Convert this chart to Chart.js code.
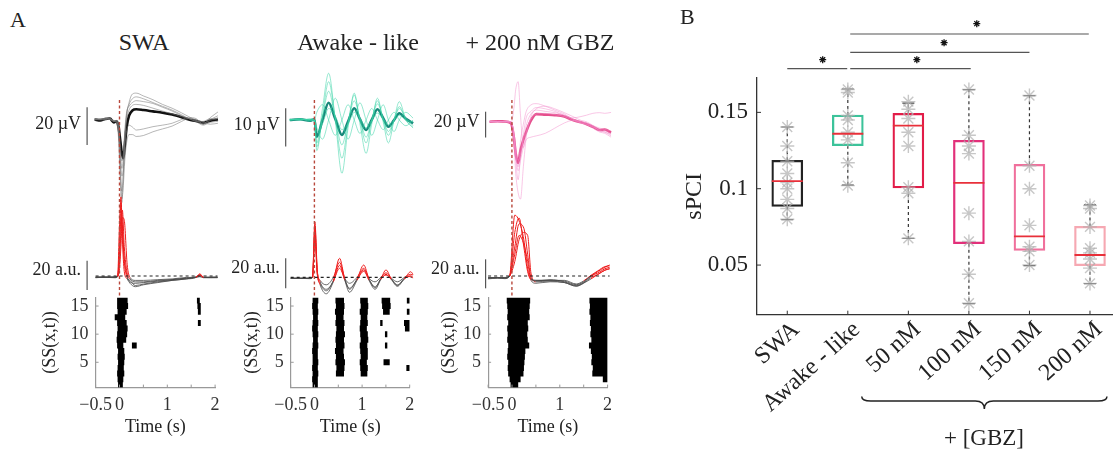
<!DOCTYPE html>
<html>
<head>
<meta charset="utf-8">
<script src="https://cdn.jsdelivr.net/npm/chart.js@4.4.1/dist/chart.umd.min.js"></script>
<style>
  body { margin: 0; background: #fff; }
  #fig { position: relative; width: 1113px; height: 452px; overflow: hidden; font-family: 'Liberation Serif', serif; color: #222; }
  #fig canvas { position: absolute; }
  .lbl { position: absolute; white-space: nowrap; line-height: 1; }
</style>
</head>
<body>
<div id="fig"></div>
<script>
// ---------- panel A : EEG traces (µV) ----------
const swaEegT = [-0.52, -0.4, -0.3, -0.2, -0.12, -0.06, -0.02, 0.02, 0.05, 0.08, 0.11, 0.15, 0.2, 0.27, 0.35, 0.5, 0.7, 0.9, 1.1, 1.3, 1.45, 1.6, 1.75, 1.9, 2.06];
const swaEegMean = [0, -0.5, 0.3, 0.5, -1.5, -1, -4, -12, -18, -20.5, -14, -4, 2, 4.8, 5.4, 5, 4.3, 3.6, 2.6, 1.2, 0, -0.8, -1.8, -0.6, 0];
const swaEegThin = [
  [0.5, 0, 0.6, 0.3, -1, -1.5, -6, -22, -30, -26, -12, 2, 9, 13.5, 14, 12.5, 10.5, 8, 6, 3.5, 1.5, -0.5, -2.5, 1, 4],
  [-0.3, 0.2, 0.5, 0, -1, -0.5, -8, -30, -38, -28, -10, 3, 8, 11, 12, 11, 9, 7, 5, 2.5, 0.5, -1, -3, -1.5, -1],
  [0.2, -0.3, 0, 0.5, -0.5, -1, -5, -25, -42, -35, -22, -12, -8, -8, -9, -8.5, -6.5, -5, -3.5, -1, 0.5, 0, -1.5, -2.5, -2],
  [-0.2, 0.3, 0.6, 0, -0.8, -2, -10, -35, -44, -30, -15, -6, -3, -4, -5.6, -5, -3.8, -3, -2, 0, 1, 0.5, -2.5, -0.5, 1],
  [0.3, 0, 0.2, 0.8, -1.2, -0.5, -3, -15, -22, -18, -8, 0, 5, 7.5, 8, 7.5, 6, 4.5, 3, 1.5, 0.5, -1, -1, 0.5, -0.5],
  [0, 0.4, 0, 0.2, -0.5, -1, -4, -18, -26, -20, -6, 4, 7, 9, 10, 9.5, 8.5, 6.5, 4.5, 2, 0.5, -0.5, -2, 0, 2]
];

const awkEegT = [-0.52, -0.3, -0.1, 0, 0.05, 0.17, 0.3, 0.44, 0.58, 0.71, 0.84, 0.96, 1.09, 1.21, 1.33, 1.45, 1.56, 1.68, 1.79, 1.93, 2.08];
const awkEegMean = [0, 0.2, -0.2, 0.2, -4.4, 0, 4.5, 0.3, -3.9, -0.4, 3.05, 0.2, -2.6, 0.1, 2.8, 0.5, -1.75, 0, 1.75, 0.3, -0.9];
const awkEegThin = [
  [0, 0.3, 0, 0, -6, 3, 12.2, 0, -13.9, -2, 7, -1, -8.7, -1, 5.7, -0.5, -6, 0, 4.8, 0, -2],
  [0.2, 0, 0.3, 0, -2, -5, 0, 5.7, 0, -5, 0, 4.5, 0, -4, 0, 4, 0, -3, 0, 2, 0.5],
  [0, 0.3, -0.3, 0, -7, 0.5, 7.5, 0.5, -6.5, -0.5, 5, 0.5, -4.5, 0, 4.2, 0.5, -3, 0, 3, 0.5, -1.5],
  [0.1, 0, 0.2, 0, -3, -1, 3, 1, -2.5, -1, 2, 0.5, -2, 0, 1.8, 0.3, -1.2, 0, 1.2, 0, -0.5],
  [0, 0.2, 0, 0, 2, 4, 0, -4, 0, 4, 0, -3.5, 0, 3, 0, -2.5, 0, 2, 0, -1.5, 0],
  [0, 0.2, 0, 0, -8, 1, 10, 0.5, -10, -1, 6.5, 0, -6, 0, 5, 0, -4, 0, 3.5, 0, -2]
];

const gbzEegT = [-0.47, -0.3, -0.15, -0.02, 0.04, 0.08, 0.13, 0.18, 0.24, 0.3, 0.4, 0.51, 0.7, 0.9, 1.1, 1.28, 1.45, 1.56, 1.7, 1.84, 1.95, 2.08];
const gbzEegMean = [0, 0.3, 0.2, -1.3, -12, -25, -32, -22, -14, -7.7, 1, 5.9, 5.5, 5.1, 4, 1.3, -0.5, -1.8, -4, -6.4, -6, -8.5];
const gbzEegThin = [
  [0, 0.2, 0, -1, 10, 25, 31, 5, -20, -8, 2, 6, 6.5, 5.5, 4, 1, -1, -2, -4, -6, -7, -9],
  [0, 0.3, 0, 0, -15, -40, -55, -60, -35, -12, 4, 10, 12, 10, 7, 4, 1, 0, -3, -7, -8, -11],
  [0, -0.2, 0.2, 0, -10, -25, -38, -30, -20, -14, -12, -11, -9, -5, -1, 1, 0, -1, -3, -5, -6, -7],
  [0, 0.2, 0.3, 0, -8, -20, -30, -25, -10, 3, 8, 11, 10, 8, 5, 3, 4, 5, 6.5, 7, 6.5, 7.2],
  [0, 0.1, 0, 0, -10, -25, -35, -15, -2, 8, 13, 14, 12, 9, 6, 2, 0, -1, -4, -7, -8, -10],
  [0, 0.2, 0.1, 0, -12, -30, -45, -28, -15, -3, 6, 9, 8, 7, 5, 2, -1, -2, -5, -8, -9, -12]
];

// ---------- panel A : SS traces (a.u., threshold at 0) ----------
const ssThreshold = 0;
const swaSsT = [-0.5, -0.3, -0.1, -0.04, 0, 0.03, 0.06, 0.1, 0.16, 0.22, 0.33, 0.5, 0.8, 1.1, 1.4, 1.6, 1.68, 1.76, 2.05];
const swaSs = [
  [-1, -0.5, -1, -0.5, 20, 50, 35, 10, -1, -3, -6.5, -5.5, -4, -3, -2, -1, 1.5, -1, -1],
  [-0.8, -1, -0.5, 0, 35, 54, 25, 3, -2, -5, -7.3, -6, -4.5, -3, -2, -0.5, 0.5, -1, -0.8],
  [-1.2, -0.8, -1, 0, 10, 30, 45, 20, 2, -2, -4, -4, -3, -2.5, -1.5, -1, -0.5, -1.2, -1],
  [-1, -1, -0.7, -0.3, 5, 20, 40, 38, 8, -1, -3, -3, -2.5, -2, -1, -0.8, 0, -1, -1.2],
  [-0.6, -0.8, -1.2, -0.5, 15, 40, 30, 12, 0, -4, -5, -4.5, -3.5, -2.5, -1.5, -1, 1, -0.8, -0.7]
];
const awkSsT = [-0.5, -0.3, -0.1, -0.04, 0.01, 0.06, 0.12, 0.25, 0.4, 0.53, 0.64, 0.74, 0.9, 1.04, 1.15, 1.28, 1.4, 1.51, 1.62, 1.75, 1.9, 2.03, 2.08];
const awkSs = [
  [-0.7, -0.5, -0.8, 0, 37, 5, -3, -8, -2, 12.7, -1, -7.3, -1, 8.2, -1, -6.3, -1, 4.9, -1, -5, -1, 3.7, 2],
  [-0.5, -0.8, -0.6, 0, 30, 3, -5, -11, -3, 8, -2, -10, -2, 5, -2, -8, -1.5, 2, -1.5, -6, -1, 1, 0],
  [-0.8, -0.6, -0.5, 0, 34, 4, -2, -5, 0, 10, -0.5, -4, 0, 6, -0.5, -3, 0, 3, -0.5, -3, 0, 2, 1.5],
  [-0.6, -0.7, -0.9, -0.2, 25, 2, -4, -9, -2.5, 6, -1.5, -8, -1.5, 4, -1.5, -7, -1, 1.5, -1, -5.5, -0.5, 0.5, -0.5]
];
const gbzSsT = [-0.5, -0.3, -0.15, -0.05, 0.06, 0.15, 0.25, 0.33, 0.4, 0.5, 0.8, 1.1, 1.35, 1.5, 1.66, 1.8, 1.95, 2.05];
const gbzSs = [
  [-1.5, -1, -1.5, 0, 42, 38, 25, 5, -2, -3, -3, -3.5, -6, -4, 0, 3, 6, 7.6],
  [-1.5, -1.2, -1, 0, 20, 36, 33, 15, -1, -3.5, -2.5, -4, -6.5, -4.5, 0, 2, 5, 6],
  [-1, -1.4, -1.2, 0, 10, 25, 30, 28, 2, -4, -3.5, -4.5, -7, -5, -1, 1, 4, 5],
  [-2, -1.5, -1.8, 0, 15, 28, 22, 10, -3, -5, -4, -4.5, -7, -5, -2, 1, 4, 5],
  [-1.2, -1, -1.4, -0.2, 30, 40, 20, 3, -2.5, -3, -3, -3, -5.5, -3.5, 0.5, 3.5, 6.5, 7]
];

// ---------- panel A : rasters [row, start (s), end (s)] ----------
const rasterSWA = [
  [16, -0.05, 0.17], [15, -0.05, 0.18], [14, -0.04, 0.15], [13, -0.1, 0.12], [12, -0.05, 0.15], [11, -0.04, 0.17],
  [10, -0.05, 0.16], [9, -0.06, 0.14], [8, -0.05, 0.08], [7, -0.03, 0.1], [6, -0.04, 0.11], [5, -0.03, 0.1],
  [4, -0.04, 0.09], [3, -0.05, 0.1], [2, -0.04, 0.08], [1, -0.03, 0.07],
  [8, 0.26, 0.36], [16, 1.62, 1.68], [15, 1.63, 1.7], [14, 1.64, 1.7], [12, 1.64, 1.7]
];
const rasterAwake = [
  [16, -0.04, 0.08], [15, -0.05, 0.07], [14, -0.04, 0.08], [13, -0.03, 0.07], [12, -0.04, 0.08], [11, -0.05, 0.07],
  [10, -0.04, 0.08], [9, -0.03, 0.07], [8, -0.04, 0.08], [7, -0.05, 0.07], [6, -0.04, 0.07], [5, -0.04, 0.08],
  [4, -0.05, 0.07], [3, -0.04, 0.08], [2, -0.05, 0.07], [1, -0.04, 0.07],
  [16, 0.44, 0.62], [15, 0.45, 0.63], [14, 0.43, 0.62], [13, 0.45, 0.61], [12, 0.44, 0.63], [11, 0.46, 0.62],
  [10, 0.45, 0.64], [9, 0.44, 0.62], [8, 0.45, 0.63], [7, 0.43, 0.61], [6, 0.45, 0.62], [5, 0.44, 0.64],
  [4, 0.46, 0.63], [3, 0.45, 0.62],
  [16, 0.96, 1.12], [15, 0.97, 1.13], [14, 0.95, 1.12], [13, 0.97, 1.11], [12, 0.96, 1.12], [11, 0.95, 1.1],
  [10, 0.96, 1.12], [9, 0.97, 1.13], [8, 0.95, 1.11], [7, 0.96, 1.12], [6, 0.97, 1.12], [5, 0.95, 1.1],
  [4, 0.96, 1.12], [3, 0.97, 1.11],
  [16, 1.41, 1.59], [15, 1.42, 1.6], [14, 1.44, 1.58], [12, 1.38, 1.43], [10, 1.48, 1.53], [8, 1.48, 1.53], [5, 1.45, 1.58],
  [16, 1.94, 2.0], [14, 1.94, 2.0], [12, 1.88, 2.0], [11, 1.9, 2.0], [4, 1.93, 2.0]
];
const rasterGBZ = [
  [16, -0.11, 0.38], [15, -0.1, 0.37], [14, -0.09, 0.36], [13, -0.1, 0.37], [12, -0.08, 0.33], [11, -0.1, 0.34],
  [10, -0.09, 0.32], [9, -0.1, 0.33], [8, -0.08, 0.36], [7, -0.09, 0.28], [6, -0.1, 0.27], [5, -0.08, 0.26],
  [4, -0.09, 0.25], [3, -0.08, 0.24], [2, -0.05, 0.18], [1, -0.03, 0.13],
  [16, 1.62, 2.0], [15, 1.63, 2.0], [14, 1.62, 2.0], [13, 1.64, 2.0], [12, 1.63, 2.0], [11, 1.65, 2.0],
  [10, 1.64, 2.0], [9, 1.66, 2.0], [8, 1.61, 2.0], [7, 1.65, 2.0], [6, 1.67, 2.0], [5, 1.66, 2.0],
  [4, 1.69, 2.0], [3, 1.68, 2.0], [2, 1.9, 2.0]
];
const rasterTicksY = [5, 10, 15];
const timeTicks = [-0.5, 0, 0.5, 1, 1.5, 2];
const timeTickLabels = ['\u22120.5', '0', '', '1', '', '2'];

// ---------- panel B : sPCI box plots ----------
const groupLabels = ['SWA', 'Awake - like', '50 nM', '100 nM', '150 nM', '200 nM'];
const whiskerLow = [0.0797, 0.1024, 0.0675, 0.0247, 0.0496, 0.0378];
const boxLow = [0.0884, 0.1282, 0.1005, 0.064, 0.0596, 0.0496];
const medians = [0.105, 0.136, 0.1413, 0.1038, 0.0688, 0.0566];
const boxHigh = [0.1186, 0.1483, 0.1494, 0.1317, 0.116, 0.0753];
const whiskerHigh = [0.1404, 0.1653, 0.156, 0.1649, 0.161, 0.0894];
const sliceValues = [
  [0.1404, 0.128, 0.118, 0.11, 0.104, 0.1, 0.093, 0.087, 0.08],
  [0.165, 0.163, 0.148, 0.145, 0.137, 0.132, 0.117, 0.102],
  [0.157, 0.152, 0.146, 0.137, 0.128, 0.101, 0.097, 0.0675],
  [0.165, 0.135, 0.128, 0.123, 0.084, 0.0655, 0.044, 0.025],
  [0.161, 0.115, 0.1, 0.076, 0.062, 0.059, 0.05],
  [0.089, 0.087, 0.075, 0.061, 0.058, 0.054, 0.048, 0.038]
];
const sPciTicks = [0.05, 0.1, 0.15];
const sigFrom = [1, 2.04, 2.04, 2.04];
const sigTo = [1.99, 4.03, 5.0, 5.98];
const sigLevel = [0.1786, 0.1786, 0.1893, 0.2013];
const sigStarX = [1.585, 3.14, 3.59, 4.13];
const sigStarY = [0.1845, 0.1845, 0.1956, 0.2081];

// ---------- styles / layout ----------
const boxColors = ['#222222', '#3cc39a', '#e21c48', '#e2307a', '#f0709c', '#f6a8b2'];
const columnStyle = [
  { thin: 'rgba(120,120,120,0.6)', mean: '#111111' },
  { thin: 'rgba(60,212,168,0.6)', mean: '#17887a' },
  { thin: 'rgba(242,140,205,0.55)', mean: '#e54f8c' }
];
const panelLayout = [
  { x0: 119.5, k: 47.8, eegBase: 119.5, eegPx: 1.885, eegBar: [6.5, -13.5], eegUnit: '20 \u00b5V', ssBase: 276, ssPx: 1.465, ssBar: [10.4, -9.6], barDx: -8.5, titlePad: 9 },
  { x0: 314.5, k: 47.6, eegBase: 120, eegPx: 3.83, eegBar: [3.05, -6.95], eegUnit: '10 \u00b5V', ssBase: 277.3, ssPx: 1.5, ssBar: [12.7, -7.3], barDx: -5, titlePad: 16 },
  { x0: 512, k: 47.8, eegBase: 121.7, eegPx: 1.29, eegBar: [7.75, -12.25], eegUnit: '20 \u00b5V', ssBase: 276, ssPx: 1.45, ssBar: [11.5, -8.5], barDx: -2.5, titlePad: 16 }
];
const columnData = [
  { eegT: swaEegT, eegMean: swaEegMean, eegThin: swaEegThin, ssT: swaSsT, ss: swaSs, raster: rasterSWA },
  { eegT: awkEegT, eegMean: awkEegMean, eegThin: awkEegThin, ssT: awkSsT, ss: awkSs, raster: rasterAwake },
  { eegT: gbzEegT, eegMean: gbzEegMean, eegThin: gbzEegThin, ssT: gbzSsT, ss: gbzSs, raster: rasterGBZ }
];

const SERIF = "'Liberation Serif', 'Times New Roman', serif";
Chart.defaults.font.family = SERIF;
Chart.defaults.color = '#222';
const fig = document.getElementById('fig');

function addText(str, x, y, size, center) {
  const d = document.createElement('div');
  d.className = 'lbl';
  d.textContent = str;
  d.style.fontSize = size + 'px';
  d.style.top = (y - 0.506 * size) + 'px';
  d.style.left = x + 'px';
  if (center) d.style.transform = 'translateX(-50%)';
  fig.appendChild(d);
}

function placeCanvas(area, pad) {
  const left = Math.round(area.left - pad.left);
  const top = Math.round(area.top - pad.top);
  const w = Math.round(area.right + pad.right) - left;
  const h = Math.round(area.bottom + pad.bottom) - top;
  const c = document.createElement('canvas');
  c.width = w; c.height = h;
  c.style.left = left + 'px'; c.style.top = top + 'px';
  c.style.width = w + 'px'; c.style.height = h + 'px';
  fig.appendChild(c);
  return {
    canvas: c,
    padding: { left: area.left - left, top: area.top - top, right: left + w - area.right, bottom: top + h - area.bottom }
  };
}

function baseOptions() {
  return {
    responsive: false,
    animation: false,
    events: [],
    plugins: { legend: { display: false }, tooltip: { enabled: false } }
  };
}

// fixed axis size, no extra room for overhanging labels
function fixSize(scale, size) {
  if (scale.isHorizontal()) scale.height = size; else scale.width = size;
  scale.paddingTop = 0; scale.paddingBottom = 0; scale.paddingLeft = 0; scale.paddingRight = 0;
}

function traceSet(ts, vs, color, width) {
  return {
    type: 'line',
    data: ts.map((t, i) => ({ x: t, y: vs[i] })),
    borderColor: color,
    borderWidth: width,
    pointRadius: 0,
    cubicInterpolationMode: 'monotone',
    fill: false
  };
}

// scale bar with unit label at the left of a trace panel
const scaleBar = {
  id: 'scaleBar',
  afterDraw(chart, args, o) {
    if (!o.label) return;
    const { ctx, scales: { x, y } } = chart;
    const bx = x.getPixelForValue(-0.5) + o.dx;
    const y1 = y.getPixelForValue(o.from), y2 = y.getPixelForValue(o.to);
    ctx.save();
    ctx.strokeStyle = '#555';
    ctx.lineWidth = 1.2;
    ctx.beginPath(); ctx.moveTo(bx, y1); ctx.lineTo(bx, y2); ctx.stroke();
    ctx.fillStyle = '#222';
    ctx.font = '18px ' + SERIF;
    ctx.textAlign = 'right';
    ctx.textBaseline = 'middle';
    ctx.fillText(o.label, bx - 6, (y1 + y2) / 2 + o.dy);
    ctx.restore();
  }
};

// red dashed stimulus line at t = 0
const stimLine = {
  id: 'stimLine',
  afterDatasetsDraw(chart, args, o) {
    if (!o.show) return;
    const { ctx, chartArea: a, scales: { x } } = chart;
    const px = x.getPixelForValue(0);
    ctx.save();
    ctx.strokeStyle = '#b8483c';
    ctx.lineWidth = 1.4;
    ctx.setLineDash([3, 2.5]);
    ctx.beginPath(); ctx.moveTo(px, a.top); ctx.lineTo(px, a.bottom); ctx.stroke();
    ctx.restore();
  }
};

// MATLAB-like tick marks pointing into the axes
const innerTicks = {
  id: 'innerTicks',
  afterDraw(chart, args, o) {
    if (!o.len) return;
    const { ctx, chartArea: a, scales: { x, y } } = chart;
    ctx.save();
    ctx.strokeStyle = o.color;
    ctx.lineWidth = 1;
    ctx.beginPath();
    x.ticks.forEach(t => {
      const px = x.getPixelForValue(t.value);
      ctx.moveTo(px, a.bottom); ctx.lineTo(px, a.bottom - o.len);
    });
    y.ticks.forEach(t => {
      const py = y.getPixelForValue(t.value);
      ctx.moveTo(a.left, py); ctx.lineTo(a.left + o.len, py);
    });
    ctx.stroke();
    ctx.restore();
  }
};

// significance stars and curly brace under the GBZ groups
const annotations = {
  id: 'annotations',
  afterDraw(chart, args, o) {
    if (!o.braceFrom) return;
    const { ctx, scales: { x, y } } = chart;
    ctx.save();
    ctx.strokeStyle = '#111';
    ctx.lineWidth = 1.3;
    sigStarX.forEach((sx, i) => {
      Chart.helpers.drawPoint(ctx, { pointStyle: 'star', radius: 3.5, borderWidth: 1.3, rotation: 0 },
        x.getPixelForValue(sx), y.getPixelForValue(sigStarY[i]));
    });
    const x1 = x.getPixelForValue(o.braceFrom), x2 = x.getPixelForValue(o.braceTo), xm = (x1 + x2) / 2;
    const y0 = o.braceTop, y1 = y0 + 4.5, y2 = y0 + 12.5, r = 9;
    ctx.strokeStyle = '#222';
    ctx.lineWidth = 1.5;
    ctx.beginPath();
    ctx.moveTo(x1, y0);
    ctx.quadraticCurveTo(x1, y1, x1 + r, y1);
    ctx.lineTo(xm - r, y1);
    ctx.quadraticCurveTo(xm, y1, xm, y2);
    ctx.quadraticCurveTo(xm, y1, xm + r, y1);
    ctx.lineTo(x2 - r, y1);
    ctx.quadraticCurveTo(x2, y1, x2, y0);
    ctx.stroke();
    ctx.restore();
  }
};

// ---------- panel A ----------
panelLayout.forEach((L, c) => {
  const d = columnData[c];
  const st = columnStyle[c];
  const left = L.x0 - 0.55 * L.k, right = L.x0 + 2.1 * L.k;

  // EEG traces
  const eegArea = { left, right, top: 60, bottom: 235 };
  const e = placeCanvas(eegArea, { left: 85, top: 0, right: 0, bottom: 0 });
  const eegSets = d.eegThin.map(v => traceSet(d.eegT, v, st.thin, 0.9));
  eegSets.push(traceSet(d.eegT, d.eegMean, st.mean, 2.6));
  const eo = baseOptions();
  eo.layout = { padding: e.padding, autoPadding: false };
  eo.scales = {
    x: { type: 'linear', display: false, min: -0.55, max: 2.1 },
    y: { type: 'linear', display: false, min: -(235 - L.eegBase) / L.eegPx, max: (L.eegBase - 60) / L.eegPx }
  };
  eo.plugins.scaleBar = { label: L.eegUnit, from: L.eegBar[0], to: L.eegBar[1], dx: L.barDx, dy: -2 };
  new Chart(e.canvas, { type: 'line', data: { datasets: eegSets }, options: eo, plugins: [scaleBar] });

  // SS traces with supra-threshold parts in red
  const ssArea = { left, right, top: 100, bottom: 297.6 };
  const s = placeCanvas(ssArea, { left: 85, top: 0, right: 0, bottom: 0 });
  const ssSets = d.ss.map(v => Object.assign(traceSet(d.ssT, v, 'rgba(70,70,70,0.8)', 1), {
    segment: { borderColor: g => (g.p0.parsed.y > ssThreshold || g.p1.parsed.y > ssThreshold) ? '#ee1c1c' : undefined }
  }));
  ssSets.unshift({
    type: 'line',
    data: [{ x: -0.5, y: ssThreshold }, { x: 2.05, y: ssThreshold }],
    borderColor: '#222', borderWidth: 1.2, borderDash: [3, 3], pointRadius: 0
  });
  const so = baseOptions();
  so.layout = { padding: s.padding, autoPadding: false };
  so.scales = {
    x: { type: 'linear', display: false, min: -0.55, max: 2.1 },
    y: { type: 'linear', display: false, min: -(297.6 - L.ssBase) / L.ssPx, max: (L.ssBase - 100) / L.ssPx }
  };
  so.plugins.scaleBar = { label: '20 a.u.', from: L.ssBar[0], to: L.ssBar[1], dx: L.barDx, dy: -5 };
  so.plugins.stimLine = { show: true };
  new Chart(s.canvas, { type: 'line', data: { datasets: ssSets }, options: so, plugins: [scaleBar, stimLine] });

  // raster of significant sources
  const rArea = { left: L.x0 - 0.5 * L.k, right: L.x0 + 2 * L.k, top: 297.6, bottom: 387.6 };
  const r = placeCanvas(rArea, { left: 66, top: 8, right: 16, bottom: 52 });
  const rasterPts = [];
  d.raster.forEach(([row, t1, t2]) => {
    rasterPts.push({ x: t1, y: row }, { x: t2, y: row }, { x: t2, y: null });
  });
  const ro = baseOptions();
  ro.layout = { padding: { left: 0, top: r.padding.top, right: r.padding.right, bottom: 0 }, autoPadding: false };
  ro.scales = {
    x: {
      type: 'linear', min: -0.5, max: 2,
      afterBuildTicks: sc => { sc.ticks = timeTicks.map(v => ({ value: v })); },
      afterFit: sc => fixSize(sc, r.padding.bottom),
      ticks: { autoSkip: false, maxRotation: 0, padding: 7, color: '#333', font: { size: 18 },
        callback: (v, i) => timeTickLabels[i] },
      grid: { display: false, drawTicks: false },
      border: { color: '#999', width: 1.2 },
      title: { display: true, text: 'Time (s)', color: '#222', font: { size: 18 }, padding: { top: 0, bottom: 2 } }
    },
    y: {
      type: 'linear', min: 0.5, max: 16.5,
      afterBuildTicks: sc => { sc.ticks = rasterTicksY.map(v => ({ value: v })); },
      afterFit: sc => fixSize(sc, r.padding.left),
      ticks: { padding: 7, color: '#333', font: { size: 18 } },
      grid: { display: false, drawTicks: false },
      border: { color: '#999', width: 1.2 },
      title: { display: true, text: '(SS(x,t))', color: '#222', font: { size: 18 }, padding: { top: L.titlePad, bottom: 0 } }
    }
  };
  ro.plugins.innerTicks = { len: 3, color: '#999' };
  new Chart(r.canvas, {
    type: 'line',
    data: { datasets: [{ data: rasterPts, borderColor: '#000', borderWidth: 6, borderCapStyle: 'butt', pointRadius: 0, spanGaps: false }] },
    options: ro,
    plugins: [innerTicks]
  });
});

// ---------- panel B ----------
const bArea = { left: 757, right: 1113, top: 78, bottom: 314.7 };
const b = placeCanvas(bArea, { left: 77, top: 78, right: 0, bottom: 137.3 });
const whiskerPts = [];
groupLabels.forEach((g, i) => {
  whiskerPts.push({ x: i + 1, y: boxHigh[i] }, { x: i + 1, y: whiskerHigh[i] }, { x: i + 1, y: null });
  whiskerPts.push({ x: i + 1, y: boxLow[i] }, { x: i + 1, y: whiskerLow[i] }, { x: i + 1, y: null });
});
const sigPts = [];
sigFrom.forEach((f, i) => {
  sigPts.push({ x: f, y: sigLevel[i] }, { x: sigTo[i], y: sigLevel[i] }, { x: sigTo[i], y: null });
});
const bo = baseOptions();
bo.layout = { padding: { left: 0, top: b.padding.top, right: 0, bottom: 0 }, autoPadding: false };
bo.scales = {
  x: {
    type: 'linear', min: 0.5, max: 6.38, offset: false,
    afterBuildTicks: sc => { sc.ticks = groupLabels.map((g, i) => ({ value: i + 1 })); },
    afterFit: sc => fixSize(sc, b.padding.bottom),
    ticks: { autoSkip: false, minRotation: 42, maxRotation: 42, padding: 1, labelOffset: 9, color: '#222', font: { size: 24 },
      callback: (v, i) => groupLabels[i] },
    grid: { display: false, drawTicks: false, offset: false },
    border: { color: '#333', width: 1.3 }
  },
  y: {
    type: 'linear', min: 0.0175, max: 0.1725,
    afterBuildTicks: sc => { sc.ticks = sPciTicks.map(v => ({ value: v })); },
    afterFit: sc => fixSize(sc, b.padding.left),
    ticks: { padding: 9, color: '#222', font: { size: 23 }, callback: v => String(v) },
    grid: { display: false, drawTicks: false },
    border: { color: '#333', width: 1.3 },
    title: { display: true, text: 'sPCI', color: '#222', font: { size: 24 }, padding: { top: 0, bottom: 0 } }
  }
};
bo.plugins.innerTicks = { len: 4, color: '#333' };
bo.plugins.annotations = { braceFrom: 2.23, braceTo: 6.28, braceTop: 396.5 };
new Chart(b.canvas, {
  type: 'bar',
  data: {
    datasets: [
      {
        type: 'scatter', data: medians.map((m, i) => ({ x: i + 1, y: m })),
        pointStyle: 'line', pointRadius: 15.5, borderColor: '#e8303a', borderWidth: 1.8
      },
      {
        type: 'scatter', data: sliceValues.flatMap((vals, i) => vals.map(v => ({ x: i + 1, y: v }))),
        pointStyle: 'star', pointRadius: 7, borderColor: 'rgba(175,175,175,0.7)', borderWidth: 1.4
      },
      {
        type: 'bar', data: groupLabels.map((g, i) => ({ x: i + 1, y: [boxLow[i], boxHigh[i]] })),
        backgroundColor: 'rgba(0,0,0,0)', borderColor: boxColors, borderWidth: 1.6, borderSkipped: false,
        barThickness: 31, grouped: false
      },
      {
        type: 'line', data: whiskerPts, borderColor: '#333', borderWidth: 1.2, borderDash: [3, 3],
        pointRadius: 0, spanGaps: false
      },
      {
        type: 'scatter', data: groupLabels.flatMap((g, i) => [{ x: i + 1, y: whiskerHigh[i] }, { x: i + 1, y: whiskerLow[i] }]),
        pointStyle: 'line', pointRadius: 6, borderColor: '#444', borderWidth: 1.2
      },
      {
        type: 'line', data: sigPts, borderColor: '#555', borderWidth: 1.2, pointRadius: 0, spanGaps: false, clip: false
      }
    ]
  },
  options: bo,
  plugins: [innerTicks, annotations]
});

// ---------- free text ----------
addText('A', 10, 20, 22, false);
addText('B', 680, 17.5, 22, false);
addText('SWA', 144, 42.5, 24, true);
addText('Awake - like', 358, 42.5, 24, true);
addText('+ 200 nM GBZ', 540, 42.5, 24, true);
addText('+ [GBZ]', 984, 438, 23, true);
</script>
</body>
</html>
